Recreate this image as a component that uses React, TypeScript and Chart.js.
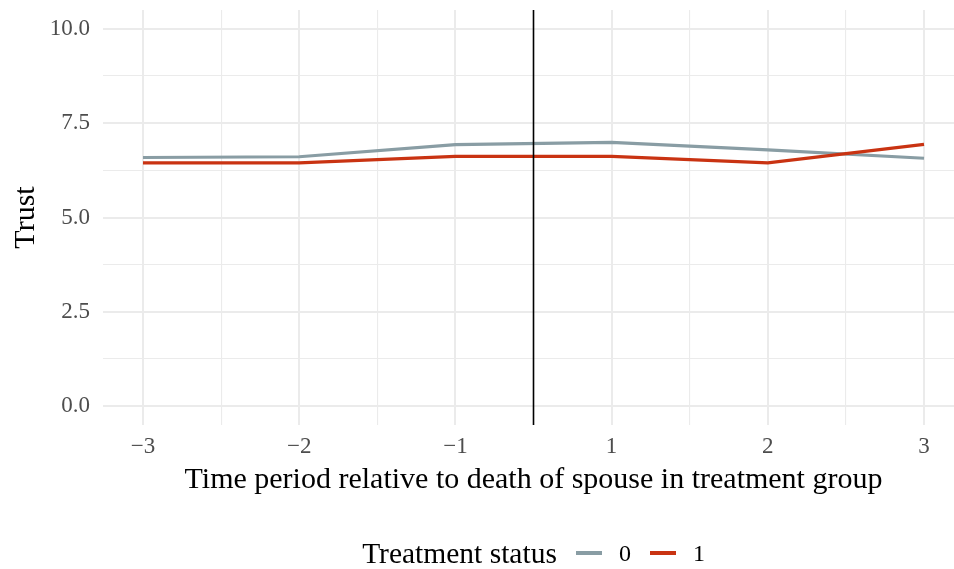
import React, { useEffect, useRef } from "react";
import { Chart, registerables } from "chart.js";

Chart.register(...registerables);

// ---- data ----
const periodLabels = ["−3", "−2", "−1", "1", "2", "3"];
const controlTrust = [6.59, 6.61, 6.93, 6.99, 6.79, 6.57];
const treatedTrust = [6.45, 6.45, 6.62, 6.62, 6.45, 6.94];
const seriesNames = ["0", "1"];
const seriesColors = ["#899DA4", "#C93312"];
const yTickValues = [0, 1.25, 2.5, 3.75, 5, 6.25, 7.5, 8.75, 10];
const yLabelValues = [0, 2.5, 5, 7.5, 10];
const treatmentBoundary = 2.5; // between period −1 and 1
const xTitle = "Time period relative to death of spouse in treatment group";
const yTitle = "Trust";
const legendTitle = "Treatment status";

const FONT = "'Liberation Serif', 'Times New Roman', serif";

const xGridValues = periodLabels.flatMap((_, i) =>
  i < periodLabels.length - 1 ? [i, i + 0.5] : [i]
);

const vlinePlugin = {
  id: "vline",
  afterDatasetsDraw(chart: any) {
    const { ctx, chartArea, scales } = chart;
    const x = scales.x.getPixelForValue(treatmentBoundary);
    ctx.save();
    ctx.strokeStyle = "#000000";
    ctx.lineWidth = 1.6;
    ctx.beginPath();
    ctx.moveTo(x, chartArea.top);
    ctx.lineTo(x, chartArea.bottom);
    ctx.stroke();
    ctx.restore();
  },
};

export default function App() {
  const canvasRef = useRef<HTMLCanvasElement | null>(null);

  useEffect(() => {
    if (!canvasRef.current) return;
    const toPoints = (arr: number[]) => arr.map((y, i) => ({ x: i, y }));
    const chart = new Chart(canvasRef.current, {
      type: "line",
      data: {
        datasets: [
          {
            label: seriesNames[0],
            data: toPoints(controlTrust),
            borderColor: seriesColors[0],
            backgroundColor: seriesColors[0],
            borderWidth: 3.2,
            pointRadius: 0,
            tension: 0,
            order: 1,
          },
          {
            label: seriesNames[1],
            data: toPoints(treatedTrust),
            borderColor: seriesColors[1],
            backgroundColor: seriesColors[1],
            borderWidth: 3.2,
            pointRadius: 0,
            tension: 0,
            order: 0,
          },
        ],
      },
      options: {
        animation: false,
        responsive: false,
        maintainAspectRatio: false,
        layout: { padding: { left: 0, top: 10, right: 0, bottom: 71 } },
        plugins: { legend: { display: false }, tooltip: { enabled: false } },
        scales: {
          x: {
            type: "linear",
            min: -0.256,
            max: 5.256,
            afterBuildTicks: (axis: any) => {
              axis.ticks = xGridValues.map((v) => ({ value: v }));
            },
            afterFit: (axis: any) => {
              axis.height = 73;
              axis.paddingLeft = 0;
              axis.paddingRight = 0;
            },
            grid: {
              color: "#EBEBEB",
              lineWidth: (c: any) =>
                Number.isInteger(c.tick?.value) ? 2 : 1.1,
              drawTicks: false,
            },
            border: { display: false },
            ticks: {
              autoSkip: false,
              maxRotation: 0,
              padding: 8,
              color: "#4D4D4D",
              font: { family: FONT, size: 23 },
              callback: (v: any) =>
                Number.isInteger(v) ? periodLabels[v] ?? "" : "",
            },
            title: {
              display: true,
              text: xTitle,
              color: "#000000",
              font: { family: FONT, size: 30 },
              padding: { top: 0, bottom: 0 },
            },
          },
          y: {
            type: "linear",
            min: -0.5,
            max: 10.5,
            afterBuildTicks: (axis: any) => {
              axis.ticks = yTickValues.map((v) => ({ value: v }));
            },
            afterFit: (axis: any) => {
              axis.width = 103;
              axis.paddingTop = 0;
              axis.paddingBottom = 0;
            },
            grid: {
              color: "#EBEBEB",
              lineWidth: (c: any) =>
                yLabelValues.includes(c.tick?.value) ? 2 : 1.1,
              drawTicks: false,
            },
            border: { display: false },
            ticks: {
              padding: 13,
              color: "#4D4D4D",
              font: { family: FONT, size: 23 },
              callback: (v: any) =>
                yLabelValues.includes(v) ? Number(v).toFixed(1) : "",
            },
            title: {
              display: true,
              text: yTitle,
              color: "#000000",
              font: { family: FONT, size: 30 },
              padding: { top: 8, bottom: 0 },
            },
          },
        },
      },
      plugins: [vlinePlugin],
    } as any);
    return () => chart.destroy();
  }, []);

  const keyStyle = (color: string): React.CSSProperties => ({
    display: "inline-block",
    width: 26,
    height: 3.5,
    background: color,
    marginLeft: 19,
    marginRight: 17,
  });

  return (
    <div
      style={{
        position: "fixed",
        left: 0,
        top: 0,
        width: 954,
        height: 569,
        overflow: "hidden",
        background: "#ffffff",
      }}
    >
      <canvas
        ref={canvasRef}
        width={964}
        height={569}
        style={{ position: "absolute", left: 0, top: 0, width: 964, height: 569 }}
      />
      <div
        style={{
          position: "absolute",
          left: 103,
          width: 861,
          top: 533,
          height: 40,
          display: "flex",
          justifyContent: "center",
          alignItems: "center",
          fontFamily: FONT,
          color: "#000000",
          whiteSpace: "nowrap",
        }}
      >
        <span style={{ fontSize: 29.5 }}>{legendTitle}</span>
        {seriesNames.map((name, i) => (
          <React.Fragment key={name}>
            <span style={keyStyle(seriesColors[i])} />
            <span style={{ fontSize: 24 }}>{name}</span>
          </React.Fragment>
        ))}
      </div>
    </div>
  );
}
